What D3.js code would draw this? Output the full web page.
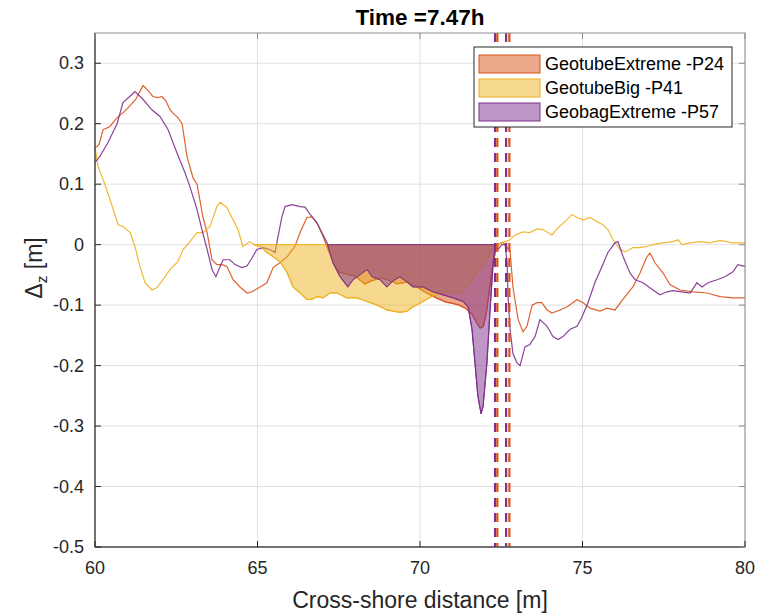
<!DOCTYPE html>
<html><head><meta charset="utf-8">
<script src="https://cdn.jsdelivr.net/npm/d3@7"></script>
<style>body{margin:0;background:#fff;} svg{display:block;font-family:"Liberation Sans",Arial,sans-serif;}</style>
</head><body>
<svg id="c" width="759" height="613"></svg>
<script>
const title = "Time =7.47h";
const xTicks = [60, 65, 70, 75, 80];
const yTicks = [0.3, 0.2, 0.1, 0, -0.1, -0.2, -0.3, -0.4, -0.5];
const seriesNames = ["GeotubeExtreme -P24", "GeotubeBig -P41", "GeobagExtreme -P57"];
const seriesColors = ["#D95319", "#EDB120", "#7E2F8E"];

const geotubeExtreme = [[60.0,0.16],[60.12,0.165],[60.25,0.19],[60.45,0.195],[60.68,0.21],[60.9,0.22],[61.08,0.23],[61.25,0.24],[61.38,0.253],[61.48,0.263],[61.63,0.255],[61.78,0.245],[61.94,0.243],[62.06,0.245],[62.18,0.238],[62.31,0.223],[62.45,0.215],[62.55,0.21],[62.68,0.2],[62.83,0.146],[63.02,0.11],[63.14,0.10],[63.32,0.046],[63.45,0.02],[63.6,-0.025],[63.75,-0.033],[63.9,-0.033],[64.06,-0.036],[64.25,-0.058],[64.46,-0.07],[64.68,-0.08],[64.83,-0.078],[65.08,-0.07],[65.29,-0.063],[65.48,-0.038],[65.69,-0.03],[65.91,-0.02],[66.15,-0.003],[66.31,0.02],[66.52,0.045],[66.68,0.046],[66.83,0.036],[67.02,0.013],[67.17,-0.008],[67.32,-0.028],[67.5,-0.045],[67.8,-0.05],[68.0,-0.052],[68.3,-0.065],[68.5,-0.06],[68.8,-0.055],[69.0,-0.058],[69.3,-0.065],[69.6,-0.062],[69.9,-0.07],[70.2,-0.08],[70.5,-0.088],[70.8,-0.095],[71.0,-0.097],[71.2,-0.1],[71.4,-0.105],[71.6,-0.115],[71.75,-0.13],[71.85,-0.138],[71.95,-0.135],[72.05,-0.11],[72.15,-0.07],[72.25,-0.03],[72.35,-0.005],[72.45,0.002],[72.55,0.004],[72.65,-0.003],[72.77,-0.01],[72.86,-0.07],[73.02,-0.124],[73.17,-0.144],[73.29,-0.135],[73.45,-0.1],[73.6,-0.096],[73.75,-0.096],[73.91,-0.108],[74.06,-0.113],[74.31,-0.108],[74.52,-0.103],[74.83,-0.091],[75.02,-0.096],[75.23,-0.105],[75.54,-0.11],[75.75,-0.105],[76.0,-0.108],[76.25,-0.09],[76.55,-0.07],[76.77,-0.047],[76.98,-0.02],[77.08,-0.014],[77.23,-0.03],[77.48,-0.047],[77.69,-0.066],[78.0,-0.075],[78.4,-0.078],[78.83,-0.08],[79.23,-0.086],[79.63,-0.088],[80.0,-0.088]];

const geotubeBig = [[60.0,0.162],[60.09,0.13],[60.25,0.108],[60.46,0.075],[60.71,0.033],[60.86,0.03],[61.08,0.02],[61.23,-0.003],[61.38,-0.036],[61.54,-0.063],[61.75,-0.075],[61.91,-0.071],[62.09,-0.058],[62.31,-0.041],[62.55,-0.028],[62.71,-0.008],[62.92,0.005],[63.14,0.02],[63.32,0.02],[63.54,0.03],[63.75,0.063],[63.85,0.07],[64.06,0.061],[64.25,0.041],[64.4,0.025],[64.55,-0.003],[64.77,0.005],[64.92,-0.001],[65.08,-0.003],[65.29,-0.013],[65.48,-0.02],[65.69,-0.028],[65.91,-0.046],[66.09,-0.07],[66.31,-0.08],[66.52,-0.091],[66.68,-0.09],[66.83,-0.086],[67.02,-0.088],[67.23,-0.08],[67.45,-0.08],[67.75,-0.088],[68.06,-0.088],[68.37,-0.094],[68.68,-0.1],[68.98,-0.108],[69.38,-0.112],[69.6,-0.11],[69.78,-0.103],[70.0,-0.097],[70.22,-0.09],[70.4,-0.085],[70.62,-0.08],[70.83,-0.077],[71.02,-0.08],[71.23,-0.08],[71.54,-0.065],[71.75,-0.046],[72.06,-0.025],[72.25,-0.003],[72.4,0.0],[72.62,0.005],[72.77,0.008],[72.92,0.016],[73.17,0.021],[73.38,0.02],[73.6,0.026],[73.78,0.025],[74.06,0.016],[74.25,0.028],[74.46,0.038],[74.68,0.05],[74.83,0.045],[75.02,0.041],[75.23,0.045],[75.45,0.038],[75.63,0.033],[75.78,0.025],[75.94,0.008],[76.15,-0.008],[76.31,-0.012],[76.55,-0.005],[76.77,-0.005],[76.98,-0.003],[77.17,0.0],[77.48,0.003],[77.78,0.005],[77.94,0.008],[78.06,0.0],[78.31,0.003],[78.62,0.005],[78.92,0.003],[79.23,0.007],[79.63,0.003],[80.0,0.003]];

const geobagExtreme = [[60.0,0.136],[60.15,0.146],[60.4,0.169],[60.68,0.2],[60.86,0.235],[61.17,0.25],[61.23,0.253],[61.48,0.24],[61.75,0.223],[62.0,0.212],[62.25,0.19],[62.52,0.152],[62.77,0.119],[62.92,0.096],[63.14,0.058],[63.29,0.025],[63.45,-0.008],[63.6,-0.041],[63.72,-0.053],[63.85,-0.036],[63.94,-0.025],[64.15,-0.025],[64.31,-0.033],[64.52,-0.038],[64.68,-0.035],[64.83,-0.022],[64.98,-0.008],[65.17,-0.005],[65.38,-0.008],[65.54,-0.013],[65.63,0.013],[65.75,0.046],[65.85,0.063],[66.06,0.066],[66.31,0.063],[66.46,0.062],[66.62,0.05],[66.83,0.036],[66.98,0.02],[67.14,0.003],[67.32,-0.03],[67.54,-0.053],[67.78,-0.07],[67.94,-0.058],[68.15,-0.05],[68.37,-0.041],[68.52,-0.053],[68.77,-0.058],[68.98,-0.07],[69.17,-0.06],[69.38,-0.053],[69.6,-0.062],[69.78,-0.07],[70.09,-0.07],[70.4,-0.078],[70.71,-0.083],[71.02,-0.088],[71.32,-0.094],[71.48,-0.103],[71.6,-0.14],[71.69,-0.195],[71.78,-0.25],[71.88,-0.28],[71.94,-0.268],[72.06,-0.195],[72.15,-0.113],[72.25,-0.03],[72.31,-0.003],[72.4,-0.008],[72.52,0.0],[72.62,0.0],[72.68,-0.03],[72.71,-0.086],[72.77,-0.14],[72.86,-0.18],[72.98,-0.195],[73.08,-0.2],[73.23,-0.169],[73.38,-0.165],[73.54,-0.152],[73.69,-0.124],[73.91,-0.135],[74.09,-0.152],[74.25,-0.157],[74.4,-0.152],[74.62,-0.14],[74.83,-0.135],[74.98,-0.12],[75.17,-0.096],[75.38,-0.063],[75.6,-0.036],[75.78,-0.013],[76.0,0.003],[76.09,0.005],[76.25,-0.02],[76.46,-0.047],[76.62,-0.058],[76.86,-0.063],[77.17,-0.075],[77.38,-0.083],[77.6,-0.078],[77.78,-0.076],[78.06,-0.078],[78.31,-0.08],[78.52,-0.063],[78.68,-0.07],[78.86,-0.063],[79.14,-0.058],[79.38,-0.053],[79.63,-0.045],[79.78,-0.033],[80.0,-0.036]];

const fillStart = [67.11, 64.9, 67.15];
const fillEnd = [72.38, 72.33, 72.31];
const markerPositions = [[72.38, 72.75], [], [72.31, 72.65]];

const allSeries = [geotubeExtreme, geotubeBig, geobagExtreme];

const svg = d3.select("#c");
const L = 95, R = 745, T = 33, B = 547;
const x = d3.scaleLinear().domain([60, 80]).range([L, R]);
const y = d3.scaleLinear().domain([-0.5, 0.35]).range([B, T]);
const ink = "#262626";

svg.append("rect").attr("x", L).attr("y", T).attr("width", R - L).attr("height", B - T).attr("fill", "#fff");

// grid
const grid = svg.append("g").attr("stroke", "#e1e1e1").attr("stroke-width", 1);
xTicks.forEach(t => grid.append("line").attr("x1", x(t)).attr("x2", x(t)).attr("y1", T).attr("y2", B));
yTicks.forEach(t => grid.append("line").attr("x1", L).attr("x2", R).attr("y1", y(t)).attr("y2", y(t)));

const line = d3.line().x(d => x(d[0])).y(d => y(d[1]));
const plot = svg.append("g");

// lines
allSeries.forEach((s, i) => {
  plot.append("path").attr("d", line(s)).attr("fill", "none")
    .attr("stroke", seriesColors[i]).attr("stroke-width", 1.2).attr("opacity", 0.9);
});

function interp(s, xv) {
  for (let k = 0; k < s.length - 1; k++) {
    if (s[k][0] <= xv && s[k + 1][0] >= xv) {
      const t = (xv - s[k][0]) / (s[k + 1][0] - s[k][0]);
      return s[k][1] + t * (s[k + 1][1] - s[k][1]);
    }
  }
  return 0;
}

// fills
allSeries.forEach((s, i) => {
  const a = fillStart[i], b = fillEnd[i];
  const pts = [[a, 0], [a, interp(s, a)]];
  s.forEach(p => { if (p[0] > a && p[0] < b) pts.push(p); });
  pts.push([b, interp(s, b)]);
  pts.push([b, 0]);
  plot.append("path").attr("d", line(pts) + "Z")
    .attr("fill", seriesColors[i]).attr("fill-opacity", 0.5)
    .attr("stroke", seriesColors[i]).attr("stroke-width", 1);
});

// dashed markers
[2, 0].forEach(i => {
  markerPositions[i].forEach(m => {
    plot.append("line").attr("x1", x(m)).attr("x2", x(m)).attr("y1", T).attr("y2", B)
      .attr("stroke", seriesColors[i]).attr("stroke-width", 2.2).attr("stroke-dasharray", "9,6");
  });
});

// axes box and ticks
const ax = svg.append("g").attr("stroke", ink).attr("stroke-width", 1).attr("fill", "none");
ax.append("rect").attr("x", L).attr("y", T).attr("width", R - L).attr("height", B - T).attr("stroke", "#8c8c8c");
ax.append("line").attr("x1", L).attr("x2", L).attr("y1", T).attr("y2", B);
ax.append("line").attr("x1", L).attr("x2", R).attr("y1", B).attr("y2", B);
xTicks.forEach(t => {
  ax.append("line").attr("x1", x(t)).attr("x2", x(t)).attr("y1", B).attr("y2", B - 6);
  ax.append("line").attr("x1", x(t)).attr("x2", x(t)).attr("y1", T).attr("y2", T + 6).attr("stroke", "#8c8c8c");
});
yTicks.forEach(t => {
  ax.append("line").attr("x1", L).attr("x2", L + 6).attr("y1", y(t)).attr("y2", y(t));
  ax.append("line").attr("x1", R).attr("x2", R - 6).attr("y1", y(t)).attr("y2", y(t)).attr("stroke", "#8c8c8c");
});

const lab = svg.append("g").attr("fill", ink).attr("font-size", 18);
xTicks.forEach(t => lab.append("text").attr("x", x(t)).attr("y", 574).attr("text-anchor", "middle").text(String(t)));
yTicks.forEach(t => lab.append("text").attr("x", 84).attr("y", y(t) + 6).attr("text-anchor", "end").text(t === 0 ? "0" : t.toFixed(1)));

svg.append("text").attr("x", 420).attr("y", 608).attr("text-anchor", "middle").attr("font-size", 23).attr("fill", ink).text("Cross-shore distance [m]");

const yl = svg.append("text").attr("transform", "translate(42,268) rotate(-90)").attr("text-anchor", "middle").attr("font-size", 23).attr("fill", ink);
yl.append("tspan").text("Δ");
yl.append("tspan").attr("font-size", 15.5).attr("dy", 5).text("z");
yl.append("tspan").attr("dy", -5).text(" [m]");

svg.append("text").attr("x", 420).attr("y", 25).attr("text-anchor", "middle").attr("font-size", 22.5).attr("font-weight", "bold").attr("fill", "#000").text(title);

// legend
const lg = svg.append("g");
lg.append("rect").attr("x", 474).attr("y", 47).attr("width", 258).attr("height", 80).attr("fill", "#fff").attr("stroke", ink).attr("stroke-width", 1);
seriesNames.forEach((n, i) => {
  const cy = 64 + i * 24;
  lg.append("rect").attr("x", 479).attr("y", cy - 9).attr("width", 61).attr("height", 18)
    .attr("fill", seriesColors[i]).attr("fill-opacity", 0.5).attr("stroke", seriesColors[i]).attr("stroke-width", 1);
  lg.append("text").attr("x", 545).attr("y", cy + 6).attr("font-size", 18).attr("fill", "#000").text(n);
});
</script>
</body></html>
